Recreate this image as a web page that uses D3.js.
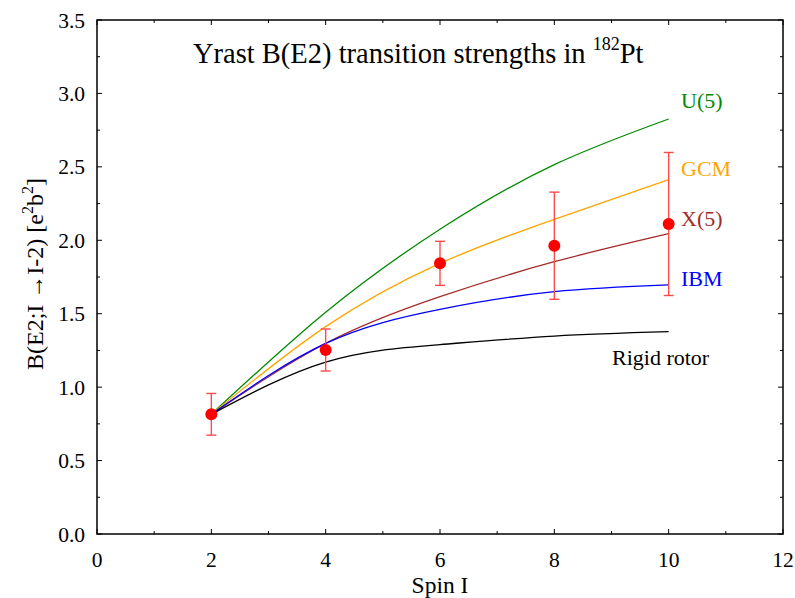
<!DOCTYPE html>
<html>
<head>
<meta charset="utf-8">
<script src="https://cdn.jsdelivr.net/npm/d3@7"></script>
<style>
  html, body { margin: 0; padding: 0; background: #fff; }
  svg { display: block; }
  text { font-family: "Liberation Serif", "Times New Roman", serif; }
</style>
</head>
<body>
<svg id="chart" width="795" height="598"></svg>
<script>
// ---- data (theory values at even spins, joined by a natural spline) ----
const spin  = [2, 4, 6, 8, 10];
const u5    = [0.815, 1.51, 2.075, 2.515, 2.826];
const gcm   = [0.815, 1.412, 1.843, 2.143, 2.413];
const x5    = [0.815, 1.298, 1.616, 1.854, 2.045];
const ibm   = [0.815, 1.298, 1.530, 1.650, 1.696];
const rigid = [0.815, 1.171, 1.290, 1.348, 1.378];

const expSpin = [2, 4, 6, 8, 10];
const expVal  = [0.815, 1.253, 1.843, 1.963, 2.111];
const expErr  = [0.142, 0.143, 0.15, 0.365, 0.487];

const seriesNames  = ["U(5)", "GCM", "X(5)", "IBM", "Rigid rotor"];
const seriesColors = ["#008a00", "#ffa500", "#a52a2a", "#0000ff", "#000000"];
const seriesValues = [u5, gcm, x5, ibm, rigid];
const labelY       = [2.95, 2.49, 2.15, 1.74, 1.2];

const xTicks = [0, 2, 4, 6, 8, 10, 12];
const yTicks = [0, 0.5, 1.0, 1.5, 2.0, 2.5, 3.0, 3.5];

// ---- layout ----
const svg = d3.select("#chart");
const L = 97, R = 783, T = 20, B = 534;
const x = d3.scaleLinear().domain([0, 12]).range([L, R]);
const y = d3.scaleLinear().domain([0, 3.5]).range([B, T]);

// ticks (inward, on all four sides)
const xMinor = d3.range(0, 12.01, 1);
const yMinor = d3.range(0, 3.51, 0.25);
const tickG = svg.append("g").attr("stroke", "#000").attr("stroke-width", 1);
xMinor.forEach(v => {
  const len = (Math.round(v) % 2 === 0) ? 5 : 3;
  tickG.append("line").attr("x1", x(v)).attr("x2", x(v)).attr("y1", B).attr("y2", B - len);
  tickG.append("line").attr("x1", x(v)).attr("x2", x(v)).attr("y1", T).attr("y2", T + len);
});
yMinor.forEach(v => {
  const major = Math.abs(v * 2 - Math.round(v * 2)) < 1e-6;
  const len = major ? 5 : 3;
  tickG.append("line").attr("x1", L).attr("x2", L + len).attr("y1", y(v)).attr("y2", y(v));
  tickG.append("line").attr("x1", R).attr("x2", R - len).attr("y1", y(v)).attr("y2", y(v));
});

// frame
svg.append("rect").attr("x", L).attr("y", T).attr("width", R - L).attr("height", B - T)
  .attr("fill", "none").attr("stroke", "#000").attr("stroke-width", 1.5);

// tick labels
svg.append("g").selectAll("text").data(xTicks).join("text")
  .attr("x", d => x(d)).attr("y", 567).attr("text-anchor", "middle")
  .attr("font-size", 21.5).text(d => d);
svg.append("g").selectAll("text").data(yTicks).join("text")
  .attr("x", 85).attr("y", d => y(d) + 7.5).attr("text-anchor", "end")
  .attr("font-size", 21.5).text(d => d.toFixed(1));

// axis titles
svg.append("text").attr("x", x(6)).attr("y", 593).attr("text-anchor", "middle")
  .attr("font-size", 23.5).text("Spin I");
const yl = svg.append("text").attr("transform", "translate(43,274) rotate(-90)")
  .attr("text-anchor", "middle").attr("font-size", 24);
yl.append("tspan").text("B(E2;I \u2192I-2) [e");
yl.append("tspan").attr("dy", -10).attr("font-size", 16).text("2");
yl.append("tspan").attr("dy", 10).text("b");
yl.append("tspan").attr("dy", -10).attr("font-size", 16).text("2");
yl.append("tspan").attr("dy", 10).text("]");

// title
const tt = svg.append("text").attr("x", 193).attr("y", 63).attr("font-size", 28.5);
tt.append("tspan").text("Yrast B(E2) transition strengths in ");
tt.append("tspan").attr("dy", -13).attr("font-size", 18).text("182");
tt.append("tspan").attr("dy", 13).text("Pt");

// theory curves
const line = d3.line().x(d => x(d[0])).y(d => y(d[1])).curve(d3.curveNatural);
seriesValues.forEach((vals, i) => {
  svg.append("path").datum(spin.map((s, j) => [s, vals[j]]))
    .attr("d", line).attr("fill", "none")
    .attr("stroke", seriesColors[i]).attr("stroke-width", 1.3);
});

// series labels
seriesNames.forEach((n, i) => {
  svg.append("text")
    .attr("x", n === "Rigid rotor" ? 612 : 681)
    .attr("y", y(labelY[i]) + 7.5)
    .attr("font-size", 22)
    .attr("fill", seriesColors[i])
    .text(n);
});

// experimental points with error bars
const eg = svg.append("g");
expSpin.forEach((s, i) => {
  const cx = x(s), v = expVal[i], e = expErr[i];
  eg.append("line").attr("x1", cx).attr("x2", cx).attr("y1", y(v - e)).attr("y2", y(v + e))
    .attr("stroke", "#ff4a4a").attr("stroke-width", 1.4);
  [v - e, v + e].forEach(c => {
    eg.append("line").attr("x1", cx - 5).attr("x2", cx + 5).attr("y1", y(c)).attr("y2", y(c))
      .attr("stroke", "#ff4a4a").attr("stroke-width", 1.4);
  });
  eg.append("circle").attr("cx", cx).attr("cy", y(v)).attr("r", 6).attr("fill", "#ff0000");
});
</script>
</body>
</html>
